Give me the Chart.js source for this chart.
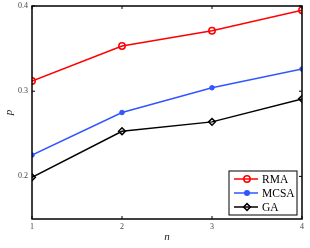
<!DOCTYPE html>
<html>
<head>
<meta charset="utf-8">
<script src="https://cdn.jsdelivr.net/npm/chart.js@4"></script>
<style>
  html, body { margin: 0; padding: 0; background: #fff; }
  #wrap { width: 310px; height: 248px; }
</style>
</head>
<body>
<div id="wrap"><canvas id="chart"></canvas></div>
<script>
const nValues = [1, 2, 3, 4];
const rmaValues = [0.312, 0.353, 0.371, 0.395];
const mcsaValues = [0.225, 0.275, 0.304, 0.326];
const gaValues = [0.199, 0.253, 0.264, 0.291];
const yTicks = [0.2, 0.3, 0.4];

const serif = '"Liberation Serif", "DejaVu Serif", serif';

function pts(vals) {
  return vals.map(function (v, i) { return { x: nValues[i], y: v }; });
}

// MATLAB-style box, inward ticks and legend with line + marker
const matlabFrame = {
  id: 'matlabFrame',
  afterDatasetsDraw: function (chart) {
    const ctx = chart.ctx;
    const a = chart.chartArea;
    const xs = chart.scales.x;
    const ys = chart.scales.y;
    ctx.save();
    ctx.strokeStyle = '#000';
    ctx.lineWidth = 1;
    nValues.forEach(function (v) {
      const px = xs.getPixelForValue(v);
      ctx.beginPath();
      ctx.moveTo(px, a.bottom); ctx.lineTo(px, a.bottom - 3);
      ctx.moveTo(px, a.top); ctx.lineTo(px, a.top + 3);
      ctx.stroke();
    });
    yTicks.forEach(function (v) {
      const py = ys.getPixelForValue(v);
      ctx.beginPath();
      ctx.moveTo(a.left, py); ctx.lineTo(a.left + 3, py);
      ctx.moveTo(a.right, py); ctx.lineTo(a.right - 3, py);
      ctx.stroke();
    });
    ctx.lineWidth = 1.5;
    ctx.strokeRect(a.left, a.top, a.right - a.left, a.bottom - a.top);

    // legend
    const bx = a.right - 73, by = a.bottom - 48, bw = 68, bh = 44;
    ctx.fillStyle = '#fff';
    ctx.fillRect(bx, by, bw, bh);
    ctx.lineWidth = 1;
    ctx.strokeRect(bx, by, bw, bh);
    ctx.font = '11.5px ' + serif;
    ctx.textBaseline = 'middle';
    chart.data.datasets.forEach(function (ds, i) {
      const cy = by + 8 + i * 14;
      ctx.strokeStyle = ds.borderColor;
      ctx.lineWidth = 1.5;
      ctx.beginPath();
      ctx.moveTo(bx + 5, cy); ctx.lineTo(bx + 29, cy);
      ctx.stroke();
      ctx.fillStyle = ds.pointBackgroundColor;
      Chart.helpers.drawPoint(ctx, {
        pointStyle: ds.pointStyle, radius: ds.pointRadius, borderWidth: ds.pointBorderWidth, rotation: 0
      }, bx + 18, cy);
      ctx.fillStyle = '#000';
      ctx.fillText(ds.label, bx + 33, cy + 0.5);
    });
    ctx.restore();
  }
};

new Chart(document.getElementById('chart'), {
  type: 'line',
  data: {
    datasets: [
      {
        label: 'RMA', data: pts(rmaValues),
        borderColor: '#ff0000', backgroundColor: '#ffffff',
        pointStyle: 'circle', pointRadius: 3.2, pointBorderWidth: 1.5,
        pointBorderColor: '#ff0000', pointBackgroundColor: 'rgba(255,255,255,0)',
        borderWidth: 1.5
      },
      {
        label: 'MCSA', data: pts(mcsaValues),
        borderColor: '#3355ff', backgroundColor: '#3355ff',
        pointStyle: 'circle', pointRadius: 2.3, pointBorderWidth: 1,
        pointBorderColor: '#3355ff', pointBackgroundColor: '#3355ff',
        borderWidth: 1.5
      },
      {
        label: 'GA', data: pts(gaValues),
        borderColor: '#000000', backgroundColor: '#ffffff',
        pointStyle: 'rectRot', pointRadius: 3.4, pointBorderWidth: 1.5,
        pointBorderColor: '#000000', pointBackgroundColor: 'rgba(255,255,255,0)',
        borderWidth: 1.5
      }
    ]
  },
  options: {
    responsive: true,
    maintainAspectRatio: false,
    animation: false,
    layout: { padding: { top: 6, right: 8, left: 3, bottom: 4 } },
    plugins: {
      legend: { display: false },
      tooltip: { enabled: false }
    },
    scales: {
      x: {
        type: 'linear', min: 1, max: 4,
        grid: { display: false, drawTicks: false },
        border: { display: false },
        afterFit: function (s) { s.height = 25; s.paddingLeft = 0; s.paddingRight = 0; },
        afterBuildTicks: function (s) { s.ticks = nValues.map(function (v) { return { value: v }; }); },
        ticks: { color: '#444', font: { family: serif, size: 8 }, padding: 3, maxRotation: 0 },
        title: { display: true, text: 'n', color: '#222', padding: { top: 0, bottom: 0 },
          font: { family: serif, size: 11, style: 'italic' } }
      },
      y: {
        type: 'linear', min: 0.15, max: 0.4,
        grid: { display: false, drawTicks: false },
        border: { display: false },
        afterFit: function (s) { s.width = 29; s.paddingTop = 0; s.paddingBottom = 0; },
        afterBuildTicks: function (s) { s.ticks = yTicks.map(function (v) { return { value: v }; }); },
        ticks: { color: '#444', font: { family: serif, size: 8 }, padding: 4,
          callback: function (v) { return v.toFixed(1); } },
        title: { display: true, text: 'p', color: '#222', padding: { top: 0, bottom: 0 },
          font: { family: serif, size: 11, style: 'italic' } }
      }
    }
  },
  plugins: [matlabFrame]
});
</script>
</body>
</html>
